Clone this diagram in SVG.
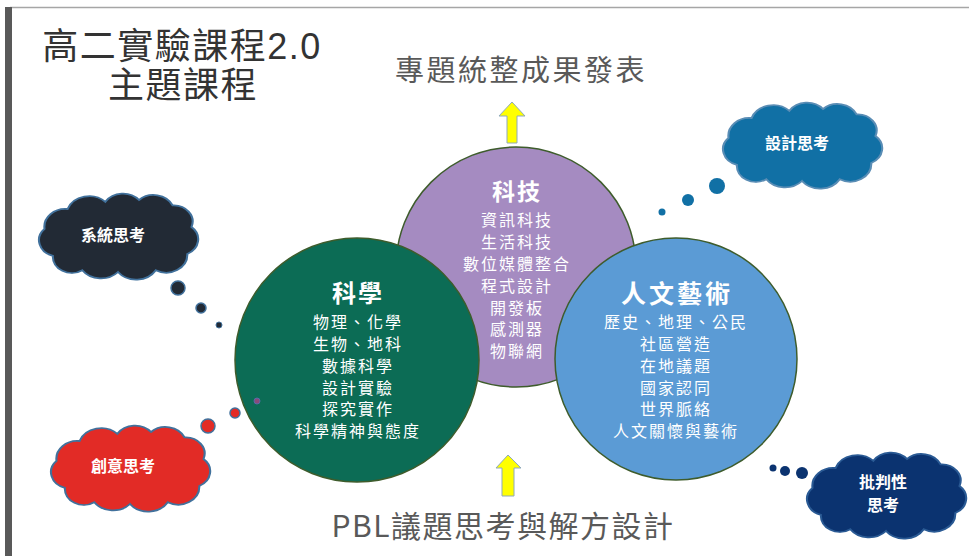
<svg xmlns="http://www.w3.org/2000/svg" width="974" height="556" viewBox="0 0 974 556">
<style>
.cjk{font-family:"Noto Sans CJK TC","Noto Sans CJK SC",sans-serif}
.title{font-size:36px;fill:#333;letter-spacing:1.5px}
.num{font-family:"Liberation Sans","Noto Sans CJK TC",sans-serif}
.lbl{font-size:29px;fill:#595959;letter-spacing:2.5px}
.ch{font-weight:bold;fill:#fff;text-anchor:middle}
.it{font-size:16px;fill:#fff;text-anchor:middle;letter-spacing:2px}
.ct{font-size:16px;font-weight:bold;fill:#fff;text-anchor:middle}
.circ{stroke:#3e5c2c;stroke-width:1.5}
.arrow{fill:#ffff00;stroke:#8fa9ba;stroke-width:1}
.cloud{stroke-width:2;vector-effect:non-scaling-stroke}
</style>
<defs>
<path id="cloud" d="M-62,22 A18,18 0 0 1 -70,-8 A20,20 0 0 1 -48,-30 A22,22 0 0 1 -12,-38 A20,20 0 0 1 20,-40 A20,20 0 0 1 52,-34 A18,18 0 0 1 70,-10 A18,18 0 0 1 66,20 A20,20 0 0 1 36,38 A22,22 0 0 1 0,40 A22,22 0 0 1 -34,38 A18,18 0 0 1 -62,22 Z"/>
</defs>
<rect width="974" height="556" fill="#fff"/>
<g id="frame">
<line x1="10" y1="7.5" x2="969" y2="7.5" stroke="#a6a6a6" stroke-width="1.5"/>
<rect x="5" y="7" width="7" height="549" fill="#595959"/>
</g>
<g id="title" class="cjk">
<text x="182" y="59" class="title" text-anchor="middle">高二實驗課程<tspan class="num">2.0</tspan></text>
<text x="183" y="98" class="title" text-anchor="middle">主題課程</text>
</g>
<g id="connectors">
<polygon class="arrow" points="512,102 525,116 517,116 517,143 507,143 507,116 499,116"/>
<polygon class="arrow" points="508,455 521,468 514,468 514,496 502,496 502,468 496,468"/>
</g>
<g id="top-label" class="cjk">
<text x="521" y="81" class="lbl" text-anchor="middle">專題統整成果發表</text>
</g>
<g id="bottom-label" class="cjk">
<text x="503" y="537" class="lbl" style="font-size:30px;letter-spacing:1.5px" text-anchor="middle">PBL議題思考與解方設計</text>
</g>
<g id="tech" class="cjk">
<circle class="circ" cx="516" cy="267" r="120" fill="#a58bc1"/>
<text x="517" y="200" class="ch" style="font-size:23px;letter-spacing:2px">科技</text>
<text x="517" y="226" class="it">資訊科技</text>
<text x="517" y="248" class="it">生活科技</text>
<text x="517" y="269.5" class="it">數位媒體整合</text>
<text x="517" y="291.5" class="it">程式設計</text>
<text x="517" y="313.5" class="it">開發板</text>
<text x="517" y="335" class="it">感測器</text>
<text x="517" y="357" class="it">物聯網</text>
</g>
<g id="science" class="cjk">
<circle class="circ" cx="357" cy="360" r="122" fill="#0c6c55"/>
<text x="358" y="301.5" class="ch" style="font-size:24px;letter-spacing:2px">科學</text>
<text x="358" y="328" class="it">物理、化學</text>
<text x="358" y="350" class="it">生物、地科</text>
<text x="358" y="372" class="it">數據科學</text>
<text x="358" y="393.5" class="it">設計實驗</text>
<text x="358" y="415" class="it">探究實作</text>
<text x="358" y="437" class="it">科學精神與態度</text>
</g>
<g id="humanities" class="cjk">
<circle class="circ" cx="676" cy="359" r="121" fill="#5b9bd5"/>
<text x="677" y="303" class="ch" style="font-size:25px;letter-spacing:3px">人文藝術</text>
<text x="676" y="328" class="it">歷史、地理、公民</text>
<text x="676" y="350" class="it">社區營造</text>
<text x="676" y="372" class="it">在地議題</text>
<text x="676" y="393.5" class="it">國家認同</text>
<text x="676" y="415" class="it">世界脈絡</text>
<text x="676" y="437" class="it">人文關懷與藝術</text>
</g>
<g id="design-thinking" class="cjk">
<use href="#cloud" class="cloud" transform="translate(802,145) scale(1.05,0.9)" fill="#1170a5" stroke="#5a8db5"/>
<circle cx="717" cy="186" r="8" fill="#1170a5"/>
<circle cx="688" cy="200" r="6" fill="#1170a5"/>
<circle cx="662" cy="212" r="3.5" fill="#1170a5"/>
<text x="797" y="149" class="ct">設計思考</text>
</g>
<g id="systems-thinking" class="cjk">
<use href="#cloud" class="cloud" transform="translate(118,236) scale(1.05,0.9)" fill="#222a35" stroke="#41719c"/>
<circle cx="178" cy="288" r="7" fill="#222a35" stroke="#41719c" stroke-width="1.5"/>
<circle cx="201" cy="308" r="5" fill="#222a35" stroke="#41719c" stroke-width="1.5"/>
<circle cx="219" cy="325" r="3" fill="#222a35" stroke="#41719c" stroke-width="1"/>
<text x="113" y="241" class="ct">系統思考</text>
</g>
<g id="creative-thinking" class="cjk">
<use href="#cloud" class="cloud" transform="translate(130,468) scale(1.05,0.9)" fill="#e22b26" stroke="#41719c"/>
<circle cx="208" cy="426" r="7" fill="#e22b26" stroke="#41719c" stroke-width="1.5"/>
<circle cx="235" cy="413" r="5" fill="#e22b26" stroke="#41719c" stroke-width="1.5"/>
<circle cx="257" cy="401" r="3" fill="#8a4b7a" stroke="#5a6aa8" stroke-width="1"/>
<text x="123" y="472" class="ct">創意思考</text>
</g>
<g id="critical-thinking" class="cjk">
<use href="#cloud" class="cloud" transform="translate(886,495) scale(1.05,0.9)" fill="#0b3370" stroke="#2a5a94"/>
<circle cx="802" cy="473" r="6" fill="#0b3370"/>
<circle cx="785" cy="471" r="5" fill="#0b3370"/>
<circle cx="773" cy="468" r="3.5" fill="#0b3370"/>
<text x="883" y="488" class="ct">批判性</text>
<text x="883" y="511" class="ct">思考</text>
</g>
</svg>
